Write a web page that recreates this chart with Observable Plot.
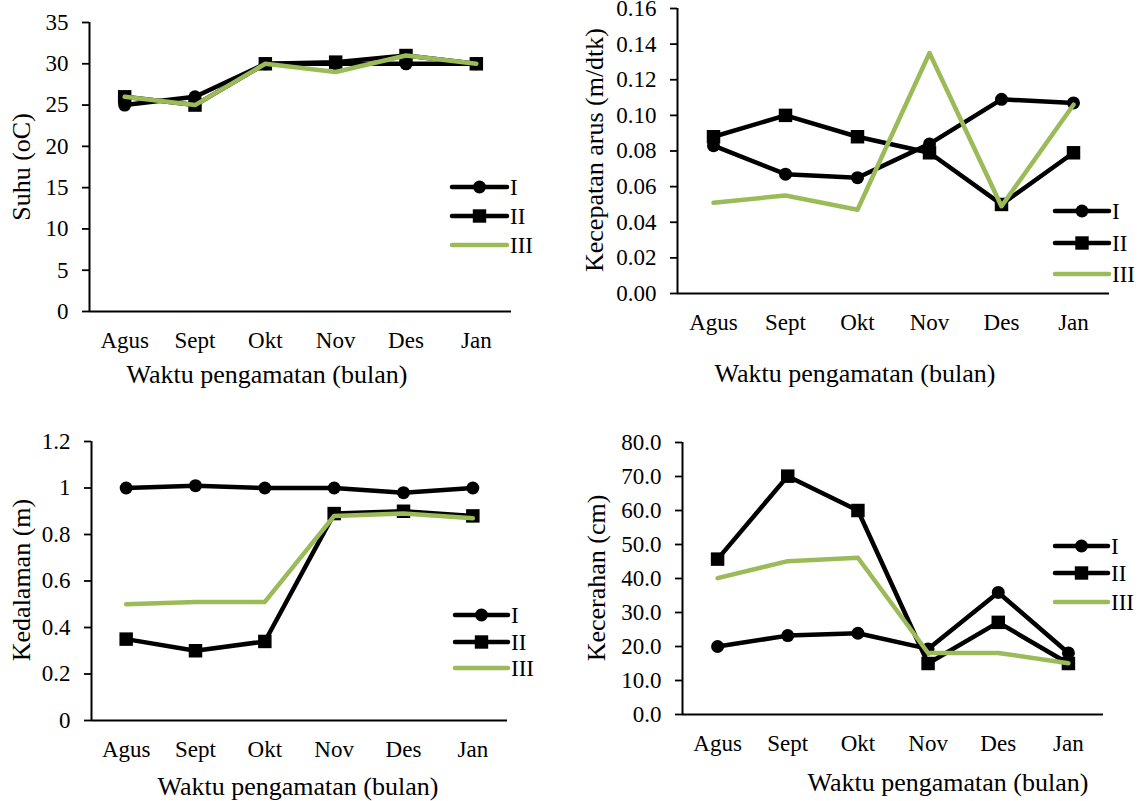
<!DOCTYPE html>
<html><head><meta charset="utf-8">
<script src="https://cdn.jsdelivr.net/npm/d3@7"></script>
<script src="https://cdn.jsdelivr.net/npm/@observablehq/plot@0.6"></script>
<style>
body{margin:0;background:#fff;}
#wrap{position:relative;width:1138px;height:801px;overflow:hidden;font-family:'Liberation Serif',serif;color:#000;background:#fff;}
.panel{position:absolute;}
.panel svg, .panel svg text{font-family:'Liberation Serif',serif !important;}
.title{position:absolute;font-family:'Liberation Serif',serif;font-size:26px;white-space:nowrap;line-height:1;transform:translate(-50%,-50%);}
.ytitle{transform:translate(-50%,-50%) rotate(-90deg);}
#legend{position:absolute;left:0;top:0;}
#legend text{font-family:'Liberation Serif',serif;}
</style></head><body><div id="wrap"></div>
<script>
// ---- data ----
const months = ["Agus","Sept","Okt","Nov","Des","Jan"];
const series = ["I","II","III"];
const xTitle = "Waktu pengamatan (bulan)";

const suhuTitle = "Suhu (oC)";
const suhuI   = [25, 26, 30, 30, 30, 30];
const suhuII  = [26, 25, 30, 30.2, 31, 30];
const suhuIII = [26, 25, 30, 29, 31, 30];
const suhuTicks = [0, 5, 10, 15, 20, 25, 30, 35];

const arusTitle = "Kecepatan arus (m/dtk)";
const arusI   = [0.083, 0.067, 0.065, 0.084, 0.109, 0.107];
const arusII  = [0.088, 0.100, 0.088, 0.079, 0.050, 0.079];
const arusIII = [0.051, 0.055, 0.047, 0.135, 0.049, 0.106];
const arusTicks = [0, 0.02, 0.04, 0.06, 0.08, 0.10, 0.12, 0.14, 0.16];

const dalamTitle = "Kedalaman (m)";
const dalamI   = [1.00, 1.01, 1.00, 1.00, 0.98, 1.00];
const dalamII  = [0.35, 0.30, 0.34, 0.89, 0.90, 0.88];
const dalamIII = [0.50, 0.51, 0.51, 0.88, 0.89, 0.87];
const dalamTicks = [0, 0.2, 0.4, 0.6, 0.8, 1, 1.2];

const cerahTitle = "Kecerahan (cm)";
const cerahI   = [20.0, 23.2, 23.9, 19.3, 35.9, 18.1];
const cerahII  = [45.7, 70.1, 60.0, 15.0, 27.1, 15.0];
const cerahIII = [40.1, 45.1, 46.1, 18.1, 18.1, 15.1];
const cerahTicks = [0, 10, 20, 30, 40, 50, 60, 70, 80];

// ---- layout ----
const BLACK = "#000000", GREEN = "#9BBB59";
const FONT = "'Liberation Serif', serif";
const panels = [
  {left:0, top:0, w:569, h:400, ml:89, mr:58, mt:22, mb:89,
   values:[suhuI,suhuII,suhuIII], ticks:suhuTicks, fmt:d3.format("d"), ytitle:suhuTitle,
   xt:[267,375], yt:[22,167], leg:{x0:452,x1:507,rows:[187,216,245]}},
  {left:569, top:0, w:569, h:400, ml:108, mr:29, mt:8, mb:107,
   values:[arusI,arusII,arusIII], ticks:arusTicks, fmt:d3.format(".2f"), ytitle:arusTitle,
   xt:[855,374], yt:[595,150], leg:{x0:1055,x1:1109,rows:[211,243,274]}},
  {left:0, top:400, w:569, h:401, ml:91, mr:62, mt:41, mb:81,
   values:[dalamI,dalamII,dalamIII], ticks:dalamTicks, fmt:d3.format("~g"), ytitle:dalamTitle,
   xt:[298,787], yt:[22,580], leg:{x0:455,x1:508,rows:[615,642,668]}},
  {left:569, top:400, w:569, h:401, ml:113, mr:35, mt:42, mb:87,
   values:[cerahI,cerahII,cerahIII], ticks:cerahTicks, fmt:d3.format(".1f"), ytitle:cerahTitle,
   xt:[948,783], yt:[597,578], leg:{x0:1055,x1:1108,rows:[546,573,602]}}
];

const wrap = document.getElementById("wrap");
const FS = 23;

panels.forEach(p => {
  const rows = [];
  p.values.forEach((vals, s) => vals.forEach((v, i) => rows.push({s: series[s], i, v})));
  const byS = s => rows.filter(r => r.s === s);
  const ymax = p.ticks[p.ticks.length - 1];
  const chart = Plot.plot({
    width: p.w, height: p.h,
    marginLeft: p.ml, marginRight: p.mr, marginTop: p.mt, marginBottom: p.mb,
    style: `font-family: ${FONT}; font-size: ${FS}px; color: #000; background: transparent; overflow: visible;`,
    x: {domain: [-0.5, months.length - 0.5]},
    y: {domain: [0, ymax]},
    marks: [
      Plot.axisX(d3.range(months.length), {tickSize: 0, tickPadding: 20, tickFormat: i => months[i], label: null, fontSize: FS, fontFamily: FONT}),
      Plot.axisY(p.ticks, {tickSize: 7, tickPadding: 14, tickFormat: p.fmt, label: null, strokeWidth: 1.8, fontSize: FS, fontFamily: FONT}),
      Plot.ruleY([0], {stroke: BLACK, strokeWidth: 2}),
      Plot.ruleX([-0.5], {stroke: BLACK, strokeWidth: 2}),
      Plot.line(byS("I"), {x: "i", y: "v", stroke: BLACK, strokeWidth: 4.5, strokeLinejoin: "round", strokeLinecap: "round"}),
      Plot.dot(byS("I"), {x: "i", y: "v", r: 6.5, fill: BLACK, stroke: null, symbol: "circle"}),
      Plot.line(byS("II"), {x: "i", y: "v", stroke: BLACK, strokeWidth: 4.5, strokeLinejoin: "round", strokeLinecap: "round"}),
      Plot.dot(byS("II"), {x: "i", y: "v", r: 7.6, fill: BLACK, stroke: null, symbol: "square"}),
      Plot.line(byS("III"), {x: "i", y: "v", stroke: GREEN, strokeWidth: 4.5, strokeLinejoin: "round", strokeLinecap: "round"})
    ]
  });
  const div = document.createElement("div");
  div.className = "panel";
  div.style.left = p.left + "px"; div.style.top = p.top + "px";
  div.style.width = p.w + "px"; div.style.height = p.h + "px";
  div.appendChild(chart);
  wrap.appendChild(div);

  const xt = document.createElement("div");
  xt.className = "title"; xt.textContent = xTitle;
  xt.style.left = p.xt[0] + "px"; xt.style.top = p.xt[1] + "px";
  wrap.appendChild(xt);
  const yt = document.createElement("div");
  yt.className = "title ytitle"; yt.textContent = p.ytitle;
  yt.style.left = p.yt[0] + "px"; yt.style.top = p.yt[1] + "px";
  wrap.appendChild(yt);
});

// legends
const svg = d3.select(wrap).append("svg").attr("id", "legend").attr("width", 1138).attr("height", 801)
  .style("font-size", FS + "px");
panels.forEach(p => {
  const L = p.leg;
  series.forEach((s, k) => {
    const y = L.rows[k];
    const col = s === "III" ? GREEN : BLACK;
    svg.append("line").attr("x1", L.x0).attr("x2", L.x1).attr("y1", y).attr("y2", y)
      .attr("stroke", col).attr("stroke-width", 4.5).attr("stroke-linecap", "round");
    const mx = (L.x0 + L.x1) / 2;
    if (s === "I") svg.append("circle").attr("cx", mx).attr("cy", y).attr("r", 6.5).attr("fill", BLACK);
    if (s === "II") svg.append("rect").attr("x", mx - 6.7).attr("y", y - 6.7).attr("width", 13.4).attr("height", 13.4).attr("fill", BLACK);
    svg.append("text").attr("x", L.x1 + 3).attr("y", y).attr("dy", "0.35em").attr("font-family", FONT).text(s);
  });
});
</script>
</body></html>
